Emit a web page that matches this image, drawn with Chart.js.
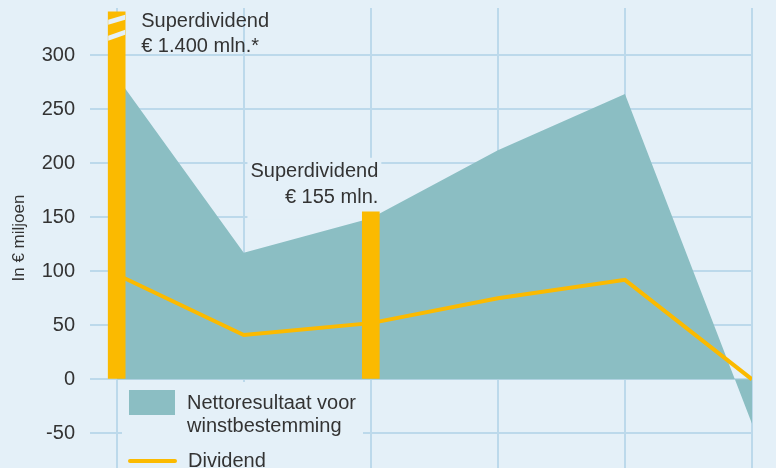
<!DOCTYPE html>
<html>
<head>
<meta charset="utf-8">
<script src="https://cdn.jsdelivr.net/npm/chart.js@4.4.1/dist/chart.umd.min.js"></script>
<style>
    html, body { margin: 0; padding: 0; background: #e4f0f8; overflow: hidden; }
    #wrap { width: 776px; height: 468px; }
</style>
</head>
<body>
<div id="wrap"><canvas id="dividendChart" width="776" height="468"></canvas></div>
<script>
// Data (category positions 0..5, no labels shown)
const categories = [0, 1, 2, 3, 4, 5];
const nettoresultaat = [280, 117, 149, 212, 264, -41];
const dividend = [97, 41, 52, 75, 92, 0];
const superdividend = [1400, null, 155, null, null, null];
const superdividendLabels = ['€ 1.400 mln.*', null, '€ 155 mln.', null, null, null];
const yTicks = [-50, 0, 50, 100, 150, 200, 250, 300];
const axisBreak = 340; // bars above this are drawn broken

const TEAL = '#8bbec3';
const YELLOW = '#fbba00';
const GRID = '#bcd9eb';
const BG = '#e4f0f8';
const TEXT = '#333333';
const FONT = "'Liberation Sans', Arial, sans-serif";

function points(values) {
    return categories.map(function(c, i) {
        return { x: c, y: values[i] === null ? null : Math.min(values[i], axisBreak) };
    });
}

// Extra drawing: text boxes, break stripes, annotations and the inline legend
const decorPlugin = {
    id: 'decor',
    beforeDatasetsDraw(chart) {
        const ctx = chart.ctx;
        const bars = chart.getDatasetMeta(2).data;
        ctx.save();
        ctx.fillStyle = BG;
        // legend box
        ctx.fillRect(122, 382, 241, 90);
        // box behind second annotation
        const b = bars[2];
        ctx.font = '20px ' + FONT;
        const w = ctx.measureText('Superdividend').width;
        ctx.fillRect(b.x + b.width / 2 - w - 4, b.y - 54, w + 6, 62);
        ctx.restore();
    },
    afterDatasetsDraw(chart) {
        const ctx = chart.ctx;
        const bars = chart.getDatasetMeta(2).data;
        ctx.save();

        // break stripes on the first bar
        const b0 = bars[0];
        const l = b0.x - b0.width / 2, r = b0.x + b0.width / 2, t = b0.y;
        ctx.fillStyle = BG;
        [[8, 3], [24, 18]].forEach(function(s) {
            ctx.beginPath();
            ctx.moveTo(l, t + s[0]);
            ctx.lineTo(r, t + s[1]);
            ctx.lineTo(r, t + s[1] + 5);
            ctx.lineTo(l, t + s[0] + 5);
            ctx.closePath();
            ctx.fill();
        });

        // annotations
        ctx.fillStyle = TEXT;
        ctx.font = '20px ' + FONT;
        ctx.textBaseline = 'middle';
        ctx.textAlign = 'left';
        ctx.fillText('Superdividend', r + 16, 21);
        ctx.fillText(superdividendLabels[0], r + 16, 46);

        const b2 = bars[2];
        ctx.textAlign = 'right';
        ctx.fillText('Superdividend', b2.x + b2.width / 2 - 1, b2.y - 40);
        ctx.fillText(superdividendLabels[2], b2.x + b2.width / 2 - 1, b2.y - 14);

        // legend
        ctx.fillStyle = TEAL;
        ctx.fillRect(129, 390, 46, 25);
        ctx.strokeStyle = YELLOW;
        ctx.lineWidth = 4;
        ctx.lineCap = 'round';
        ctx.beginPath();
        ctx.moveTo(130, 461);
        ctx.lineTo(175, 461);
        ctx.stroke();
        ctx.fillStyle = TEXT;
        ctx.textAlign = 'left';
        ctx.fillText('Nettoresultaat voor', 187, 403);
        ctx.fillText('winstbestemming', 187, 426);
        ctx.fillText('Dividend', 188, 461);
        ctx.restore();
    }
};

function loadChart() {
    const ctx = document.getElementById('dividendChart').getContext('2d');
    new Chart(ctx, {
        type: 'bar',
        data: {
            datasets: [{
                type: 'line',
                label: 'Nettoresultaat voor winstbestemming',
                data: points(nettoresultaat),
                backgroundColor: TEAL,
                borderColor: 'rgba(0,0,0,0)',
                borderWidth: 0,
                pointRadius: 0,
                fill: 'origin',
                tension: 0,
                order: 3
            }, {
                type: 'line',
                label: 'Dividend',
                data: points(dividend),
                borderColor: YELLOW,
                borderWidth: 4,
                pointRadius: 0,
                fill: false,
                tension: 0,
                order: 2
            }, {
                type: 'bar',
                label: 'Superdividend',
                data: points(superdividend),
                backgroundColor: YELLOW,
                barThickness: 17,
                order: 1
            }]
        },
        options: {
            responsive: false,
            animation: false,
            layout: { padding: { top: 8, right: 24, left: 0, bottom: 0 } },
            plugins: {
                legend: { display: false },
                tooltip: { enabled: false }
            },
            scales: {
                x: {
                    type: 'linear',
                    offset: false,
                    min: -0.21,
                    max: 5,
                    afterBuildTicks: function(scale) {
                        scale.ticks = categories.map(function(c) { return { value: c }; });
                    },
                    afterFit: function(scale) {
                        scale.height = 0;
                        scale.paddingLeft = 0;
                        scale.paddingRight = 0;
                    },
                    ticks: { display: false },
                    grid: { color: GRID, lineWidth: 2, drawTicks: false, offset: false },
                    border: { display: false }
                },
                y: {
                    min: -82,
                    max: 343.5,
                    afterBuildTicks: function(scale) {
                        scale.ticks = yTicks.map(function(v) { return { value: v }; });
                    },
                    afterFit: function(scale) {
                        scale.width = 90;
                        scale.paddingTop = 0;
                        scale.paddingBottom = 0;
                    },
                    ticks: {
                        color: TEXT,
                        font: { family: FONT, size: 20 },
                        padding: 15
                    },
                    grid: { color: GRID, lineWidth: 2, drawTicks: false },
                    border: { display: false },
                    title: {
                        display: true,
                        text: 'In € miljoen',
                        color: TEXT,
                        font: { family: FONT, size: 17 },
                        padding: { top: 9, bottom: 0 }
                    }
                }
            }
        },
        plugins: [decorPlugin]
    });
}

window.onload = loadChart;
</script>
</body>
</html>
